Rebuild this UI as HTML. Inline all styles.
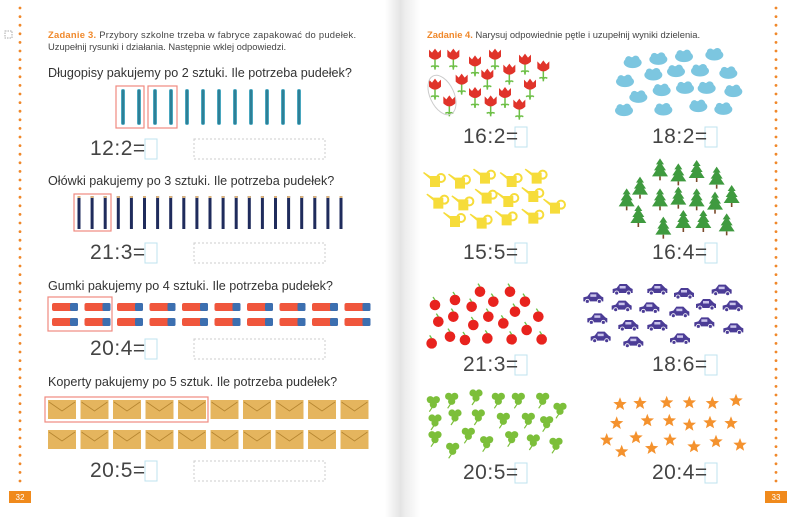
<!DOCTYPE html>
<html><head><meta charset="utf-8"><style>
body{margin:0;width:799px;height:517px;overflow:hidden;background:#fff;font-family:"Liberation Sans","DejaVu Sans",sans-serif;}
#s{position:absolute;left:0;top:0}
.t{position:absolute;color:#333;white-space:nowrap}
.h{font-size:9.4px;color:#444}
.h b{color:#f0882a}
.q{font-size:12.6px;color:#333}
.e{font-size:21px;color:#444;letter-spacing:0.5px}
</style></head><body>
<svg id="s" width="799" height="517" xmlns="http://www.w3.org/2000/svg">
<defs><linearGradient id="sp" x1="0" x2="1"><stop offset="0" stop-color="#fff"/><stop offset="0.45" stop-color="#e4e4e4"/><stop offset="0.55" stop-color="#ececec"/><stop offset="1" stop-color="#fff"/></linearGradient></defs>
<rect x="385" y="0" width="35" height="517" fill="url(#sp)"/>
<g id="g"></g>
</svg>
<div class="t h" style="left:48px;top:29px;letter-spacing:0.25px"><b>Zadanie 3.</b> Przybory szkolne trzeba w fabryce zapakować do pudełek.</div>
<div class="t h" style="left:48px;top:41px">Uzupełnij rysunki i działania. Następnie wklej odpowiedzi.</div>
<div class="t q" style="left:48px;top:66px">Długopisy pakujemy po 2 sztuki. Ile potrzeba pudełek?</div>
<div class="t q" style="left:48px;top:174px">Ołówki pakujemy po 3 sztuki. Ile potrzeba pudełek?</div>
<div class="t q" style="left:48px;top:279px">Gumki pakujemy po 4 sztuki. Ile potrzeba pudełek?</div>
<div class="t q" style="left:48px;top:375px">Koperty pakujemy po 5 sztuk. Ile potrzeba pudełek?</div>
<div class="t e" style="left:90px;top:137px">12:2=</div>
<div class="t e" style="left:90px;top:241px">21:3=</div>
<div class="t e" style="left:90px;top:337px">20:4=</div>
<div class="t e" style="left:90px;top:459px">20:5=</div>
<div class="t h" style="left:427px;top:29px"><b>Zadanie 4.</b> Narysuj odpowiednie pętle i uzupełnij wyniki dzielenia.</div>
<div class="t e" style="left:463px;top:125px">16:2=</div>
<div class="t e" style="left:652px;top:125px">18:2=</div>
<div class="t e" style="left:463px;top:241px">15:5=</div>
<div class="t e" style="left:652px;top:241px">16:4=</div>
<div class="t e" style="left:463px;top:353px">21:3=</div>
<div class="t e" style="left:652px;top:353px">18:6=</div>
<div class="t e" style="left:463px;top:461px">20:5=</div>
<div class="t e" style="left:652px;top:461px">20:4=</div>
<div class="t" style="left:11px;top:493px;width:18px;text-align:center;font-size:8px;color:#fff">32</div>
<div class="t" style="left:767px;top:493px;width:18px;text-align:center;font-size:8px;color:#fff">33</div>
<script>
var g=document.getElementById('g'),h='';
function A(s){h+=s;}
for(var y=8;y<488;y+=8.6){A('<circle cx="20" cy="'+y+'" r="1.4" fill="#f0882a"/>');A('<circle cx="776" cy="'+y+'" r="1.4" fill="#f0882a"/>');}
A('<rect x="9" y="491" width="22" height="12" fill="#f08a1c"/><rect x="765" y="491" width="22" height="12" fill="#f08a1c"/>');
A('<rect x="5" y="31" width="7" height="7" fill="none" stroke="#aaa" stroke-dasharray="1.5,1"/>');
function bx(x,y){A('<rect x="'+x+'" y="'+y+'" width="12" height="20" fill="none" stroke="#bfe3ef" stroke-width="1"/>');}
[[145,139],[145,243],[145,339],[145,461],[515,127],[705,127],[515,243],[705,243],[515,355],[705,355],[515,463],[705,463]].forEach(function(p){bx(p[0],p[1]);});
[[194,139],[194,243],[194,339],[194,461]].forEach(function(p){A('<rect x="'+p[0]+'" y="'+p[1]+'" width="131" height="20" fill="none" stroke="#ccc" stroke-dasharray="2,2"/>');});
for(var i=0;i<12;i++){var x=123+i*16;A('<rect x="'+(x-2)+'" y="89" width="4" height="36" rx="2" fill="#4aa7bf"/><rect x="'+(x-1)+'" y="90" width="2" height="34" fill="#2e7f96"/>');}
A('<rect x="116" y="86" width="28" height="42" fill="none" stroke="#f08a80" stroke-width="1.2"/><rect x="148" y="86" width="29" height="42" fill="none" stroke="#f08a80" stroke-width="1.2"/>');
for(var i=0;i<21;i++){var x=79+i*13.1;A('<rect x="'+(x-1.5)+'" y="196" width="3" height="33" fill="#1f2b5c"/><rect x="'+(x-1.5)+'" y="196" width="3" height="2" fill="#d9b07a"/>');}
A('<rect x="74" y="194" width="37" height="37" fill="none" stroke="#f08a80" stroke-width="1.2"/>');
for(var i=0;i<10;i++){for(var r=0;r<2;r++){var x=52+i*32.5,y=303+r*15;A('<rect x="'+x+'" y="'+y+'" width="26" height="8" rx="2" fill="#f0563c"/><rect x="'+(x+18)+'" y="'+y+'" width="8" height="8" rx="1.5" fill="#3c6fb0"/>');}}
A('<rect x="48" y="297" width="64" height="34" fill="none" stroke="#f08a80" stroke-width="1.2"/>');
for(var i=0;i<10;i++){for(var r=0;r<2;r++){var x=48+i*32.5,y=400+r*30;A('<rect x="'+x+'" y="'+y+'" width="28" height="19" fill="#e5b55e"/><path d="M'+(x+1)+' '+(y+2)+' L'+(x+14)+' '+(y+11)+' L'+(x+27)+' '+(y+2)+'" fill="none" stroke="#b58530" stroke-width="0.8"/>');}}
A('<rect x="45" y="397" width="163" height="25" fill="none" stroke="#f08a80" stroke-width="1.2"/>');
function P(arr,f,oy){arr.forEach(function(p){f(400+p[0]/3,(oy||0)+p[1]/3);});}
P([[105,170],[160,170],[225,190],[285,170],[375,185],[430,205],[185,245],[262,230],[328,215],[390,260],[105,260],[148,310],[225,285],[272,310],[315,285],[358,320]],function(x,y){A('<line x1="'+x+'" y1="'+y+'" x2="'+x+'" y2="'+(y+13)+'" stroke="#6cbf45" stroke-width="1.5"/><path d="M'+(x-4)+' '+(y+10)+' q4 -2 4 2 q0 -4 4 -2" fill="none" stroke="#6cbf45" stroke-width="1.5"/><path d="M'+(x-6)+' '+(y-7)+' l3 3 l3 -4 l3 4 l3 -3 v7 q-6 6 -12 0z" fill="#e0332a"/>');});
A('<ellipse cx="442" cy="95" rx="12" ry="21" transform="rotate(-25 442 95)" fill="none" stroke="#ccc"/>');
P([[698,188],[775,178],[852,170],[943,165],[675,245],[760,225],[828,215],[900,213],[985,220],[785,272],[855,265],[920,265],[1000,275],[715,292],[672,332],[790,330],[895,320],[970,328]],function(x,y){A('<ellipse cx="'+x+'" cy="'+y+'" rx="9" ry="5.5" fill="#7cc6e0"/><circle cx="'+(x-4)+'" cy="'+(y-3)+'" r="3.5" fill="#7cc6e0"/><circle cx="'+(x+3)+'" cy="'+(y-3)+'" r="4" fill="#7cc6e0"/>');});
P([[105,540],[180,545],[255,530],[335,540],[410,530],[115,605],[190,610],[260,590],[325,600],[400,585],[465,620],[165,660],[245,665],[320,655],[400,650]],function(x,y){A('<path d="M'+(x-5)+' '+(y-4)+' h10 v11 h-10z M'+(x-5)+' '+(y-1)+' l-7 -6 l1 -1 l6 4z" fill="#f6dc3a"/><circle cx="'+(x+6)+'" cy="'+(y-2)+'" r="4" fill="none" stroke="#f6dc3a" stroke-width="2"/>');});
P([[720,560],[680,595],[715,645],[780,505],[835,520],[890,510],[950,530],[780,595],[835,590],[890,595],[945,605],[995,585],[790,680],[850,660],[910,660],[980,670]],function(x,y){A('<rect x="'+(x-0.8)+'" y="'+(y+8)+'" width="1.6" height="4" fill="#7a4a2a"/><path d="M'+x+' '+(y-10)+' l4 6 h-2 l4 6 h-2 l4 6 h-16 l4 -6 h-2 l4 -6 h-2z" fill="#3f9a3f"/>');});
P([[105,135],[165,120],[240,95],[330,95],[280,125],[215,140],[375,125],[115,185],[160,170],[220,195],[265,170],[310,190],[345,155],[415,170],[380,210],[95,250],[150,230],[195,240],[262,235],[335,238],[425,238]],function(x,y){A('<circle cx="'+x+'" cy="'+y+'" r="5.3" fill="#e8231e"/><line x1="'+x+'" y1="'+(y-5)+'" x2="'+(x-2)+'" y2="'+(y-8)+'" stroke="#6cbf45" stroke-width="1.3"/>');},260);
P([[580,115],[668,90],[772,90],[852,102],[965,92],[665,140],[748,145],[838,158],[918,135],[998,140],[592,178],[685,198],[772,198],[913,190],[1000,208],[602,233],[700,248],[840,238]],function(x,y){A('<path d="M'+(x-10)+' '+(y+3)+' v-4 l4 -1 l3 -4 h7 l4 4 l2 1 v4z" fill="#4b3c96"/><rect x="'+(x-3)+'" y="'+(y-4)+'" width="6" height="2.5" fill="#c9c3ea"/><circle cx="'+(x-6)+'" cy="'+(y+3)+'" r="2" fill="#4b3c96" stroke="#fff" stroke-width="0.8"/><circle cx="'+(x+6)+'" cy="'+(y+3)+'" r="2" fill="#4b3c96" stroke="#fff" stroke-width="0.8"/>');},260);
P([[100,425],[155,415],[228,405],[295,415],[355,415],[428,415],[480,445],[105,480],[165,465],[235,465],[310,475],[385,475],[440,485],[105,530],[158,565],[205,520],[260,545],[335,530],[400,540],[468,550]],function(x,y){A('<circle cx="'+(x-3)+'" cy="'+(y-2)+'" r="3.6" fill="#7cbf3a"/><circle cx="'+(x+3)+'" cy="'+(y-2)+'" r="3.6" fill="#7cbf3a"/><circle cx="'+x+'" cy="'+(y+3)+'" r="3.6" fill="#7cbf3a"/><line x1="'+x+'" y1="'+(y+4)+'" x2="'+(x-4)+'" y2="'+(y+10)+'" stroke="#7cbf3a" stroke-width="1.2"/>');},260);
P([[660,433],[720,430],[800,428],[868,428],[937,430],[1008,422],[650,490],[742,482],[808,482],[868,495],[930,488],[993,490],[620,540],[708,533],[755,565],[810,540],[665,575],[882,560],[948,545],[1020,555]],function(x,y){var s='';for(var k=0;k<10;k++){var r=k%2?3:7,a=-Math.PI/2+k*Math.PI/5;s+=(x+r*Math.cos(a)).toFixed(1)+','+(y+r*Math.sin(a)).toFixed(1)+' ';}A('<polygon points="'+s+'" fill="#f4922e"/>');},260);
g.innerHTML=h;
</script>
</body></html>
